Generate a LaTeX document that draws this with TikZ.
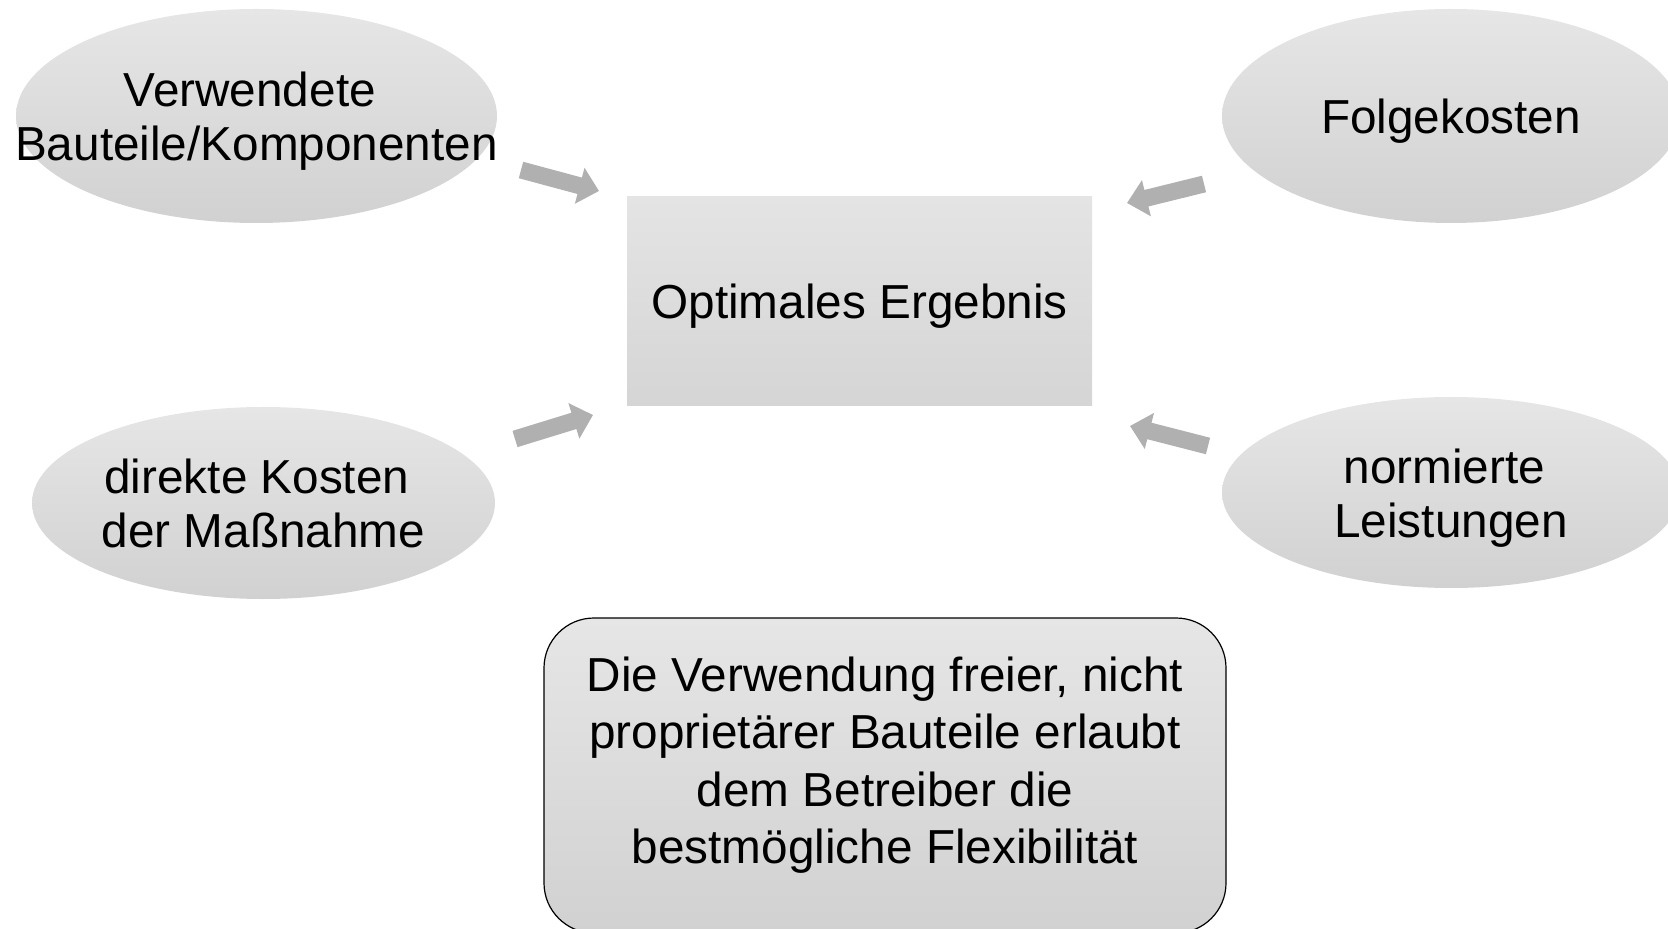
\documentclass[tikz,border=0pt]{standalone}
\usepackage{fontspec}
\setmainfont{Liberation Sans}
\usetikzlibrary{arrows.meta,shapes.geometric}
\definecolor{fillTop}{RGB}{230,230,230}
\definecolor{fillBot}{RGB}{209,209,209}
\definecolor{rectTop}{RGB}{228,228,228}
\definecolor{rectBot}{RGB}{213,213,213}
\definecolor{arrowgray}{RGB}{176,176,176}
\newcommand{\trailsp}{\kern0.278em}
\tikzset{
  txt/.style={font=\fontsize{23.85pt}{27pt}\selectfont, align=center, text=black, inner sep=0pt},
  oval/.style={ellipse, inner sep=0pt, top color=fillTop, bottom color=fillBot, draw=none},
  centerbox/.style={rectangle, inner sep=0pt, top color=rectTop, bottom color=rectBot, draw=none},
  notebox/.style={rectangle, rounded corners=25pt, inner sep=0pt, top color=fillTop, bottom color=fillBot, draw=black, line width=0.6pt},
  blockarrow/.style={draw=arrowgray, line width=8.5pt, -{Triangle[length=10pt,width=18pt]}},
}
\begin{document}
\begin{tikzpicture}[x=0.5pt,y=-0.5pt]
\useasboundingbox (0,0) rectangle (1668,929);
\clip (0,0) rectangle (1668,929);
% ovals
\node[oval, minimum width=240.5pt, minimum height=107pt] (bauteile) at (256.5,116) {};
\node[txt] (bauteiletext) at (bauteile.center) [yshift=-2.65pt] {Verwendete\trailsp\\Bauteile/Komponenten};
\node[oval, minimum width=229pt, minimum height=107pt] (folge) at (1451,116) {};
\node[txt] (folgetext) at (folge.center) [yshift=-2.65pt] {Folgekosten};
\node[oval, minimum width=231.5pt, minimum height=96pt] (direkt) at (263.5,503) {};
\node[txt] (direkttext) at (direkt.center) {direkte Kosten\trailsp\\der Maßnahme};
\node[oval, minimum width=229pt, minimum height=95.5pt] (normiert) at (1451,492.5) {};
\node[txt] (normierttext) at (normiert.center) [yshift=-2.65pt] {normierte\trailsp\\Leistungen};
% center
\node[centerbox, minimum width=232.5pt, minimum height=104.5pt] (ergebnis) at (859.5,301.5) {};
\node[txt] (ergebnistext) at (ergebnis.center) [yshift=-2.15pt] {Optimales Ergebnis};
% bottom note
\node[notebox, minimum width=341pt, minimum height=157.5pt] (note) at (885,775.5) {};
\node[txt, font=\fontsize{23.85pt}{28.7pt}\selectfont] (notetext) at (885,765.3) {Die Verwendung freier, nicht\\proprietärer Bauteile erlaubt\\dem Betreiber die\\bestmögliche Flexibilität};
% arrows
\coordinate (a1s) at (521,170);
\coordinate (a1e) at (599,191);
\coordinate (a2s) at (1204,184);
\coordinate (a2e) at (1127,203);
\coordinate (a3s) at (515,439);
\coordinate (a3e) at (593,415);
\coordinate (a4s) at (1208,446);
\coordinate (a4e) at (1130,426);
\draw[blockarrow] (a1s) -- (a1e);
\draw[blockarrow] (a2s) -- (a2e);
\draw[blockarrow] (a3s) -- (a3e);
\draw[blockarrow] (a4s) -- (a4e);
\end{tikzpicture}
\end{document}
